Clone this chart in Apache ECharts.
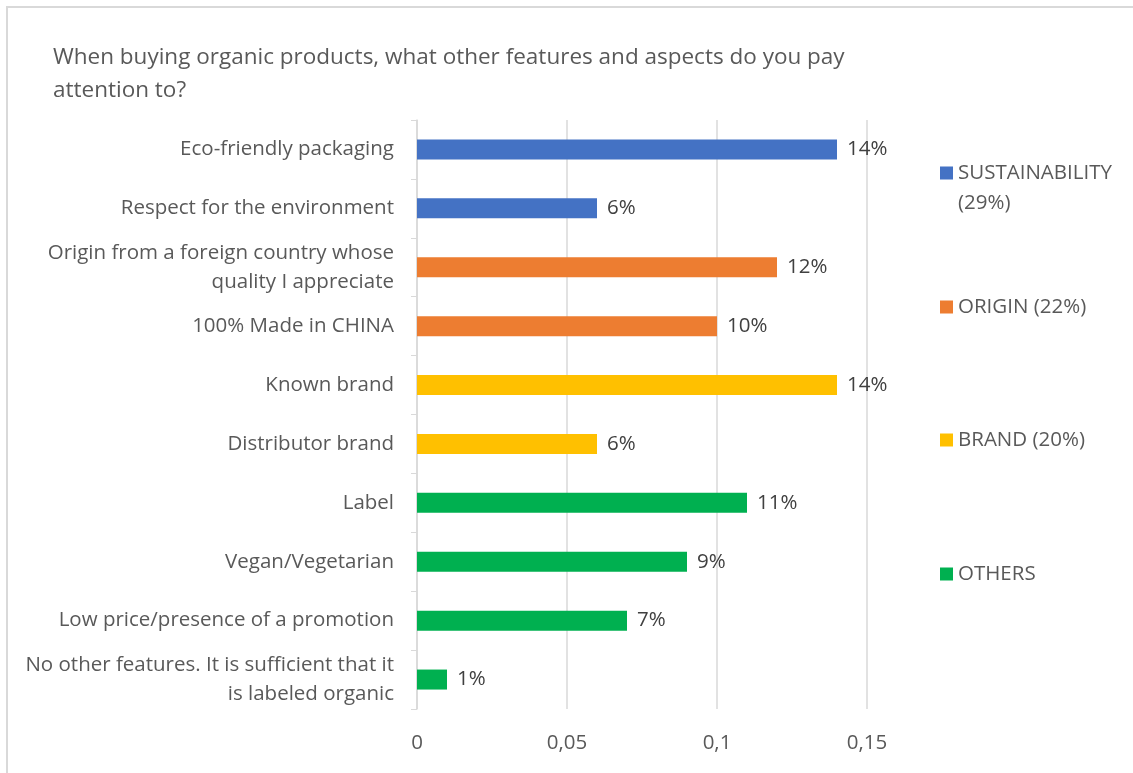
<!DOCTYPE html>
<html>
<head>
<meta charset="utf-8">
<script src="https://cdn.jsdelivr.net/npm/echarts@6/dist/echarts.min.js"></script>
<style>
  html, body { margin: 0; padding: 0; background: #ffffff; }
  #chart { width: 1133px; height: 773px; }
</style>
</head>
<body>
<div id="chart"></div>
<script>
// Survey answers, top to bottom
const categories = [
  'Eco-friendly packaging',
  'Respect for the environment',
  'Origin from a foreign country whose\nquality I appreciate',
  '100% Made in CHINA',
  'Known brand',
  'Distributor brand',
  'Label',
  'Vegan/Vegetarian',
  'Low price/presence of a promotion',
  'No other features. It is sufficient that it\nis labeled organic'
];
const values = [0.14, 0.06, 0.12, 0.10, 0.14, 0.06, 0.11, 0.09, 0.07, 0.01];
// which group each answer belongs to (index into groupNames)
const groupOf = [0, 0, 1, 1, 2, 2, 3, 3, 3, 3];
const groupNames = ['SUSTAINABILITY (29%)', 'ORIGIN (22%)', 'BRAND (20%)', 'OTHERS'];
const groupColors = ['#4472C4', '#ED7D31', '#FFC000', '#00B050'];
const xTicks = [0, 0.05, 0.1, 0.15];

const FONT = '"Open Sans"';
const textGray = '#595959';
const SIZE = 20.5;

const series = groupNames.map((name, g) => ({
  name: name,
  type: 'bar',
  stack: 'all',
  barWidth: 20,
  itemStyle: { color: groupColors[g] },
  label: {
    show: true,
    position: 'right',
    distance: 10,
    color: '#404040',
    fontFamily: FONT,
    fontSize: SIZE,
    formatter: p => Math.round(p.value * 100) + '%'
  },
  data: values.map((v, i) => groupOf[i] === g ? v : '-')
}));

// one legend block per group, stacked down the right side
const legendTops = [158, 292, 425, 559];
const legends = groupNames.map((name, g) => {
  const first = g === 0;
  return {
    data: [name],
    orient: 'vertical',
    left: 940,
    top: legendTops[g],
    padding: 0,
    selectedMode: false,
    itemWidth: 13,
    itemHeight: first ? 43 : 13,
    itemGap: 0,
    icon: first ? 'path://M0,0L13,0L13,13L0,13Z M0,43L13,43' : 'rect',
    itemStyle: { borderWidth: 0 },
    formatter: n => n === 'SUSTAINABILITY (29%)' ? 'SUSTAINABILITY\n(29%)' : n,
    textStyle: { color: textGray, fontFamily: FONT, fontSize: SIZE, lineHeight: 30 }
  };
});

const chart = echarts.init(document.getElementById('chart'), null, { renderer: 'canvas' });
chart.setOption({
  animation: false,
  backgroundColor: '#ffffff',
  title: {
    text: 'When buying organic products, what other features and aspects do you pay\nattention to?',
    left: 53,
    top: 41,
    padding: 0,
    textStyle: { color: textGray, fontFamily: FONT, fontWeight: 'normal', fontSize: 22.5, lineHeight: 33 }
  },
  graphic: [{
    type: 'rect',
    shape: { x: 7, y: 7, width: 1160, height: 800 },
    style: { fill: 'none', stroke: '#d9d9d9', lineWidth: 2 },
    silent: true
  }],
  legend: legends,
  grid: { left: 417, top: 120, width: 450, height: 589, containLabel: false },
  xAxis: {
    type: 'value',
    min: xTicks[0],
    max: xTicks[xTicks.length - 1],
    interval: 0.05,
    axisLine: { show: false },
    axisTick: { show: false },
    splitLine: { lineStyle: { color: '#d9d9d9', width: 1.5 } },
    axisLabel: {
      color: textGray, fontFamily: FONT, fontSize: SIZE, margin: 24,
      formatter: v => String(+v.toFixed(2)).replace('.', ',')
    }
  },
  yAxis: {
    type: 'category',
    inverse: true,
    data: categories,
    axisLine: { show: true, lineStyle: { color: '#d9d9d9', width: 1.5 } },
    axisTick: { show: true, length: 6, lineStyle: { color: '#d9d9d9' } },
    axisLabel: {
      color: textGray, fontFamily: FONT, fontSize: SIZE, lineHeight: 29, margin: 23, align: 'right'
    }
  },
  series: series
});
</script>
</body>
</html>
